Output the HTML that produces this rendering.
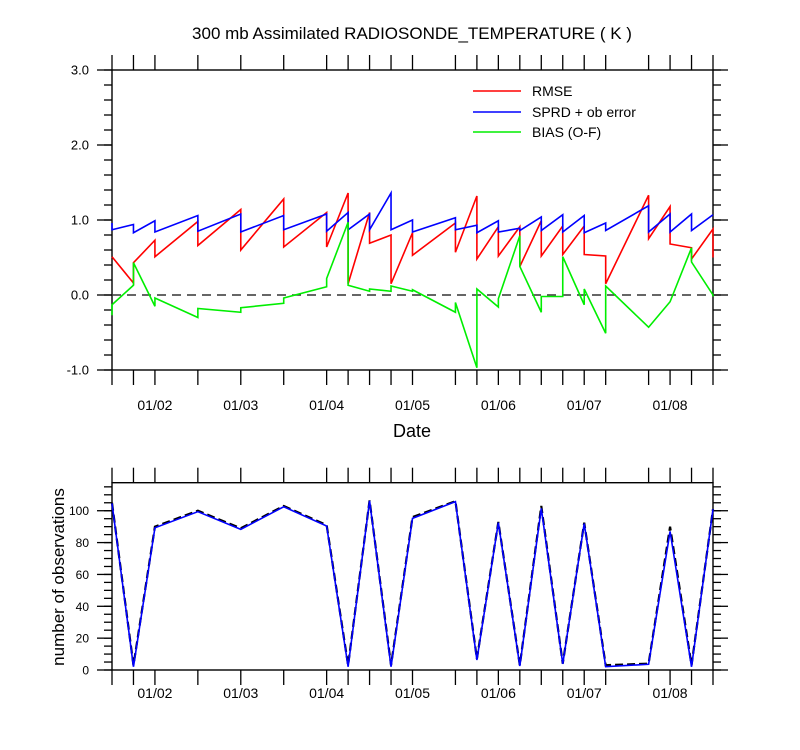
<!DOCTYPE html>
<html><head><meta charset="utf-8"><style>
html,body{margin:0;padding:0;background:#fff;}
svg{display:block;font-family:"Liberation Sans",Arial,sans-serif;}
</style></head><body>
<svg id="chart" width="800" height="750" viewBox="0 0 800 750" xmlns="http://www.w3.org/2000/svg">
<text x="412" y="39" font-size="17" text-anchor="middle">300 mb Assimilated RADIOSONDE_TEMPERATURE ( K )</text>
<g id="topPanel"></g>
<g id="botPanel"></g>
<text x="412" y="437" font-size="18" text-anchor="middle">Date</text>
<text transform="translate(64,577) rotate(-90)" font-size="17" text-anchor="middle">number of observations</text>
<g>
<line x1="473" y1="91" x2="521" y2="91" stroke="#ff0000" stroke-width="1.6"/>
<text x="532" y="96" font-size="14">RMSE</text>
<line x1="473" y1="112" x2="521" y2="112" stroke="#0000ff" stroke-width="1.6"/>
<text x="532" y="117" font-size="14">SPRD + ob error</text>
<line x1="473" y1="132" x2="521" y2="132" stroke="#00ee00" stroke-width="1.6"/>
<text x="532" y="137" font-size="14">BIAS (O-F)</text>
</g>
</svg>
<script>
// obs times in days since 01/01 12Z
const obsTimes=[0,0.25,0.5,1,1.5,2,2.5,2.75,3,3.25,3.5,4,4.25,4.5,4.75,5,5.25,5.5,5.75,6.25,6.5,6.75,7];
const dateLabels=["01/02","01/03","01/04","01/05","01/06","01/07","01/08"];
const dateDays=[0.5,1.5,2.5,3.5,4.5,5.5,6.5];
const rmseEnd=[0.51,0.16,0.73,0.98,1.14,1.28,1.10,1.36,1.10,0.80,0.83,0.96,1.32,0.91,0.91,0.99,0.92,0.92,0.52,1.33,1.18,0.63,0.88];
const rmseStart=[0.51,0.43,0.51,0.66,0.60,0.64,0.64,0.15,0.69,0.15,0.53,0.57,0.48,0.52,0.38,0.52,0.54,0.54,0.15,0.75,0.68,0.48,0.50];
const sprdEnd=[0.96,0.94,0.99,1.06,1.08,1.06,1.08,1.10,1.08,1.36,1.00,1.03,0.93,0.99,0.89,1.04,1.07,1.06,0.96,1.19,1.08,1.08,1.07];
const sprdStart=[0.87,0.83,0.84,0.85,0.84,0.87,0.85,0.87,0.87,0.87,0.84,0.87,0.83,0.84,0.86,0.86,0.84,0.83,0.86,0.84,0.84,0.86,1.07];
const biasEnd=[-0.27,0.13,-0.15,-0.30,-0.23,-0.11,0.11,0.97,0.05,0.05,0.05,-0.23,-0.97,-0.16,0.79,-0.23,-0.02,-0.13,-0.51,-0.43,-0.09,0.63,0.00];
const biasStart=[-0.13,0.43,-0.04,-0.18,-0.17,-0.04,0.22,0.13,0.08,0.12,0.07,-0.10,0.08,-0.05,0.38,-0.02,0.51,0.08,0.12,-0.43,-0.09,0.44,-0.02];
const yTicksTop=[-1,0,1,2,3];
const yTickLabelsTop=["-1.0","0.0","1.0","2.0","3.0"];
const countBlue=[104.6,2,89.3,99.4,88.3,102.5,90.4,2,106.3,2,95.2,105.7,6.3,92.5,2.5,101.5,3.8,92,2.1,3.6,87,2,101];
const countBlack=[105,3,90,100,89,103,91,3,106.5,3,96,106,7,93,3,103,4,92.5,3,4,90,3,101];
const yTicksBot=[0,20,40,60,80,100];

const NS="http://www.w3.org/2000/svg";
const X0=112,X1=713,T0=0,T1=7;
const xs=t=>X0+(t-T0)/(T1-T0)*(X1-X0);
const topY=v=>295-75*v;
const botY=v=>670-(v/117.6)*(670-482.7);
function mk(parent,tag,attrs){const e=document.createElementNS(NS,tag);for(const k in attrs)e.setAttribute(k,attrs[k]);parent.appendChild(e);return e;}
function line(p,x1,y1,x2,y2){return mk(p,'line',{x1,y1,x2,y2,stroke:'#000','stroke-width':1.3});}

function frame(g,yTop,yBot,minorVals,majorVals,labels,yf,name){
  const r=mk(g,'rect',{x:X0,y:yTop,width:X1-X0,height:yBot-yTop,fill:'none',stroke:'#000','stroke-width':1.4});
  
  
  obsTimes.forEach(t=>{const x=xs(t);line(g,x,yTop,x,yTop-15);line(g,x,yBot,x,yBot+15);});
  minorVals.forEach(v=>{const y=yf(v);line(g,X0,y,X0-8,y);line(g,X1,y,X1+8,y);});
  majorVals.forEach((v,i)=>{const y=yf(v);line(g,X0,y,X0-15,y);line(g,X1,y,X1+15,y);
    const t=mk(g,'text',{x:X0-23,y:y+4.5,'font-size':name==='top'?13:12,'text-anchor':'end'});t.textContent=labels[i];
    
    });
}
function dates(g,y){dateLabels.forEach((d,i)=>{const t=mk(g,'text',{x:xs(dateDays[i]),y:y,'font-size':14,'text-anchor':'middle'});t.textContent=d;
  
  });}
function saw(g,end,start,color,name){
  const pts=[];obsTimes.forEach((t,i)=>{pts.push([xs(t),topY(end[i])]);pts.push([xs(t),topY(start[i])]);});
  const p=mk(g,'polyline',{points:pts.map(q=>q.join(',')).join(' '),fill:'none',stroke:color,'stroke-width':1.6,'stroke-linejoin':'miter'});
  
  
}
const topG=document.getElementById('topPanel');
const minorTop=[];for(let v=-1;v<=3.001;v+=0.2)minorTop.push(+v.toFixed(1));
frame(topG,70,370,minorTop,yTicksTop,yTickLabelsTop,topY,'top');
const zl=mk(topG,'line',{x1:X0,y1:topY(0),x2:X1,y2:topY(0),stroke:'#333','stroke-width':1.4,'stroke-dasharray':'9,6'});


saw(topG,rmseEnd,rmseStart,'#ff0000','rmse-line');
saw(topG,sprdEnd,sprdStart,'#0000ff','sprd-line');
saw(topG,biasEnd,biasStart,'#00ee00','bias-line');
dates(topG,410);

const botG=document.getElementById('botPanel');
const minorBot=[];for(let v=0;v<=115;v+=5)minorBot.push(v);
frame(botG,482.7,670,minorBot,yTicksBot,yTicksBot.map(String),botY,'bottom');
const pb=mk(botG,'polyline',{points:obsTimes.map((t,i)=>xs(t)+','+botY(countBlack[i])).join(' '),fill:'none',stroke:'#000','stroke-width':2.2,'stroke-dasharray':'8,4'});


const pl=mk(botG,'polyline',{points:obsTimes.map((t,i)=>xs(t)+','+botY(countBlue[i])).join(' '),fill:'none',stroke:'#0000ff','stroke-width':1.6});


dates(botG,698);
</script>
</body></html>
